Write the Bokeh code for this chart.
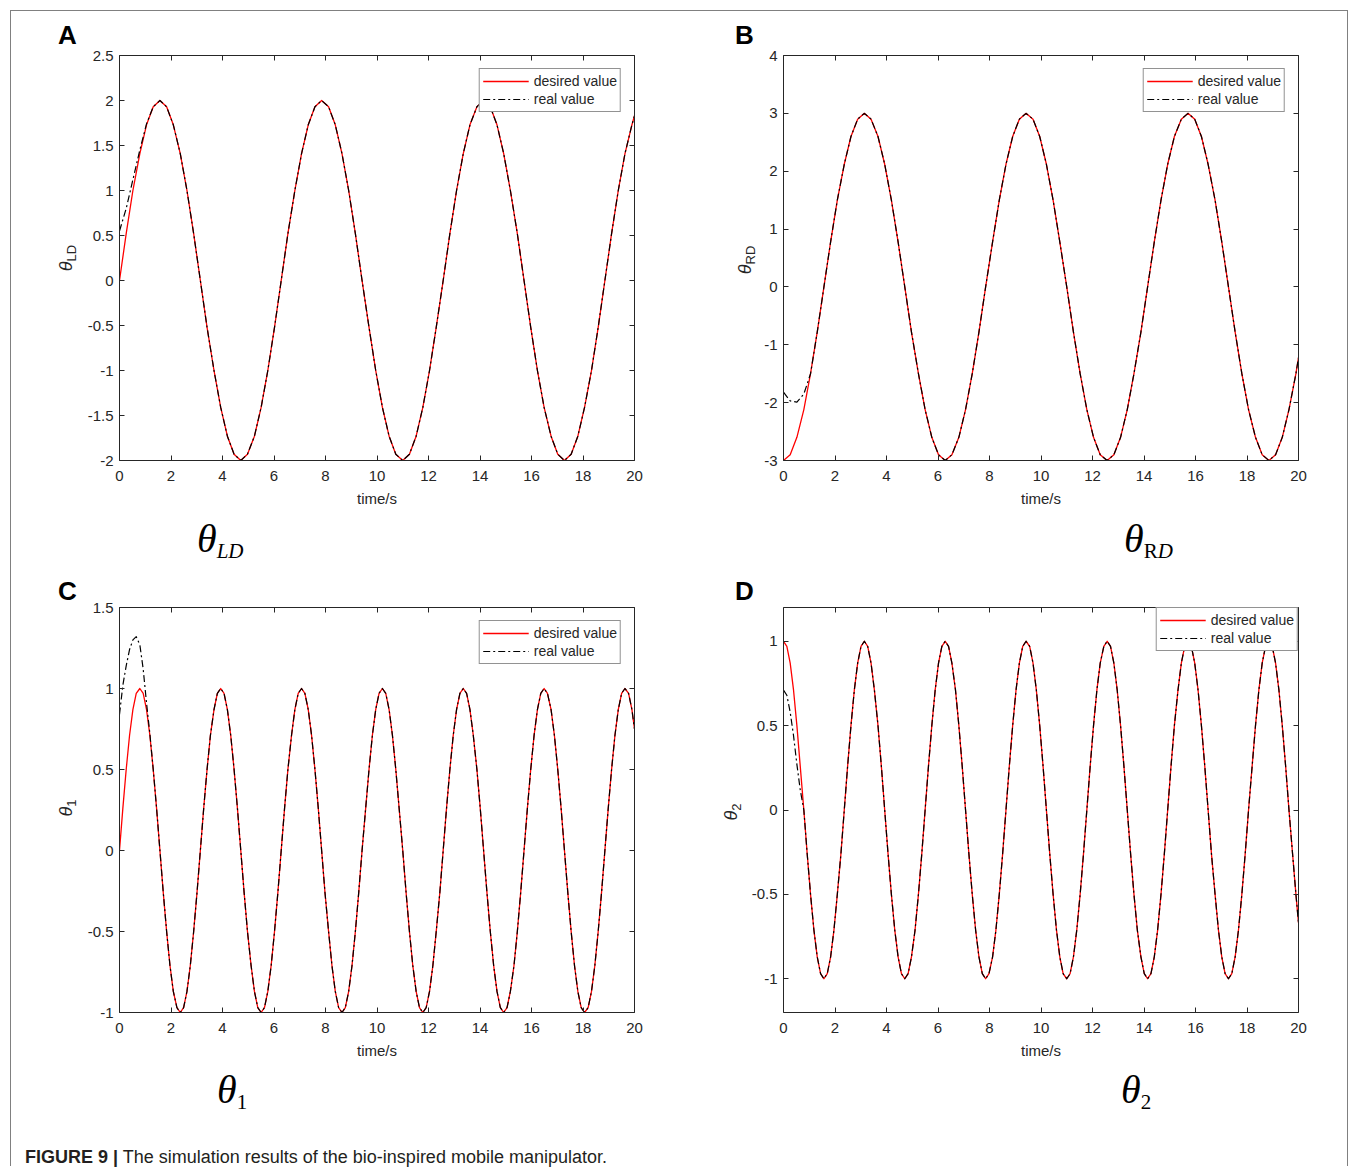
from bokeh.plotting import figure
from bokeh.models import Range1d, LinearAxis, FixedTicker, Legend, LegendItem, Div
from bokeh.layouts import row, column
from bokeh.embed import file_html
from bokeh.resources import INLINE

# ---------------- data ----------------
time_ab = [0.00, 0.26, 0.52, 0.79, 1.05, 1.31, 1.57, 1.83, 2.09, 2.36, 2.62, 2.88, 3.14, 3.40, 3.67, 3.93,
           4.19, 4.45, 4.71, 4.97, 5.24, 5.50, 5.76, 6.02, 6.28, 6.54, 6.81, 7.07, 7.33, 7.59, 7.85, 8.12,
           8.38, 8.64, 8.90, 9.16, 9.42, 9.69, 9.95, 10.21, 10.47, 10.73, 11.00, 11.26, 11.52, 11.78, 12.04,
           12.30, 12.57, 12.83, 13.09, 13.35, 13.61, 13.88, 14.14, 14.40, 14.66, 14.92, 15.18, 15.45, 15.71,
           15.97, 16.23, 16.49, 16.76, 17.02, 17.28, 17.54, 17.80, 18.06, 18.33, 18.59, 18.85, 19.11, 19.37,
           19.63, 19.90, 20.00]

desired_LD = [0.00, 0.52, 1.00, 1.41, 1.73, 1.93, 2.00, 1.93, 1.73, 1.41, 1.00, 0.52, 0.00, -0.52, -1.00, -1.41,
              -1.73, -1.93, -2.00, -1.93, -1.73, -1.41, -1.00, -0.52,
              0.00, 0.52, 1.00, 1.41, 1.73, 1.93, 2.00, 1.93, 1.73, 1.41, 1.00, 0.52, 0.00, -0.52, -1.00, -1.41,
              -1.73, -1.93, -2.00, -1.93, -1.73, -1.41, -1.00, -0.52,
              0.00, 0.52, 1.00, 1.41, 1.73, 1.93, 2.00, 1.93, 1.73, 1.41, 1.00, 0.52, 0.00, -0.52, -1.00, -1.41,
              -1.73, -1.93, -2.00, -1.93, -1.73, -1.41, -1.00, -0.52,
              0.00, 0.52, 1.00, 1.41, 1.73, 1.83]
real_LD_start = [0.55, 0.80, 1.12, 1.45, 1.74]

desired_RD = [-3.00, -2.90, -2.60, -2.12, -1.50, -0.78, 0.00, 0.78, 1.50, 2.12, 2.60, 2.90, 3.00, 2.90, 2.60, 2.12,
              1.50, 0.78, 0.00, -0.78, -1.50, -2.12, -2.60, -2.90,
              -3.00, -2.90, -2.60, -2.12, -1.50, -0.78, 0.00, 0.78, 1.50, 2.12, 2.60, 2.90, 3.00, 2.90, 2.60, 2.12,
              1.50, 0.78, 0.00, -0.78, -1.50, -2.12, -2.60, -2.90,
              -3.00, -2.90, -2.60, -2.12, -1.50, -0.78, 0.00, 0.78, 1.50, 2.12, 2.60, 2.90, 3.00, 2.90, 2.60, 2.12,
              1.50, 0.78, 0.00, -0.78, -1.50, -2.12, -2.60, -2.90,
              -3.00, -2.90, -2.60, -2.12, -1.50, -1.22]
real_RD_start = [-1.82, -1.97, -1.99, -1.85, -1.50]

time_cd = [0.00, 0.13, 0.26, 0.39, 0.52, 0.65, 0.79, 0.92, 1.05, 1.18, 1.31, 1.44, 1.57, 1.70, 1.83, 1.96,
           2.09, 2.23, 2.36, 2.49, 2.62, 2.75, 2.88, 3.01, 3.14, 3.27, 3.40, 3.53, 3.67, 3.80, 3.93, 4.06,
           4.19, 4.32, 4.45, 4.58, 4.71, 4.84, 4.97, 5.11, 5.24, 5.37, 5.50, 5.63, 5.76, 5.89, 6.02, 6.15,
           6.28, 6.41, 6.54, 6.68, 6.81, 6.94, 7.07, 7.20, 7.33, 7.46, 7.59, 7.72, 7.85, 7.98, 8.12, 8.25,
           8.38, 8.51, 8.64, 8.77, 8.90, 9.03, 9.16, 9.29, 9.42, 9.56, 9.69, 9.82, 9.95, 10.08, 10.21, 10.34,
           10.47, 10.60, 10.73, 10.86, 11.00, 11.13, 11.26, 11.39, 11.52, 11.65, 11.78, 11.91, 12.04, 12.17,
           12.30, 12.44, 12.57, 12.70, 12.83, 12.96, 13.09, 13.22, 13.35, 13.48, 13.61, 13.74, 13.88, 14.01,
           14.14, 14.27, 14.40, 14.53, 14.66, 14.79, 14.92, 15.05, 15.18, 15.32, 15.45, 15.58, 15.71, 15.84,
           15.97, 16.10, 16.23, 16.36, 16.49, 16.62, 16.76, 16.89, 17.02, 17.15, 17.28, 17.41, 17.54, 17.67,
           17.80, 17.93, 18.06, 18.20, 18.33, 18.46, 18.59, 18.72, 18.85, 18.98, 19.11, 19.24, 19.37, 19.50,
           19.63, 19.77, 19.90, 20.00]

desired_1 = [0.00, 0.26, 0.50, 0.71, 0.87, 0.97, 1.00, 0.97, 0.87, 0.71, 0.50, 0.26, 0.00, -0.26, -0.50, -0.71,
             -0.87, -0.97, -1.00, -0.97, -0.87, -0.71, -0.50, -0.26,
             0.00, 0.26, 0.50, 0.71, 0.87, 0.97, 1.00, 0.97, 0.87, 0.71, 0.50, 0.26, 0.00, -0.26, -0.50, -0.71,
             -0.87, -0.97, -1.00, -0.97, -0.87, -0.71, -0.50, -0.26,
             0.00, 0.26, 0.50, 0.71, 0.87, 0.97, 1.00, 0.97, 0.87, 0.71, 0.50, 0.26, 0.00, -0.26, -0.50, -0.71,
             -0.87, -0.97, -1.00, -0.97, -0.87, -0.71, -0.50, -0.26,
             0.00, 0.26, 0.50, 0.71, 0.87, 0.97, 1.00, 0.97, 0.87, 0.71, 0.50, 0.26, 0.00, -0.26, -0.50, -0.71,
             -0.87, -0.97, -1.00, -0.97, -0.87, -0.71, -0.50, -0.26,
             0.00, 0.26, 0.50, 0.71, 0.87, 0.97, 1.00, 0.97, 0.87, 0.71, 0.50, 0.26, 0.00, -0.26, -0.50, -0.71,
             -0.87, -0.97, -1.00, -0.97, -0.87, -0.71, -0.50, -0.26,
             0.00, 0.26, 0.50, 0.71, 0.87, 0.97, 1.00, 0.97, 0.87, 0.71, 0.50, 0.26, 0.00, -0.26, -0.50, -0.71,
             -0.87, -0.97, -1.00, -0.97, -0.87, -0.71, -0.50, -0.26,
             0.00, 0.26, 0.50, 0.71, 0.87, 0.97, 1.00, 0.97, 0.87, 0.75]
real_1_start = [0.84, 1.02, 1.14, 1.24, 1.30, 1.32, 1.27, 1.12, 0.91, 0.72]

desired_2 = [1.00, 0.97, 0.87, 0.71, 0.50, 0.26, 0.00, -0.26, -0.50, -0.71, -0.87, -0.97, -1.00, -0.97, -0.87, -0.71,
             -0.50, -0.26, 0.00, 0.26, 0.50, 0.71, 0.87, 0.97,
             1.00, 0.97, 0.87, 0.71, 0.50, 0.26, 0.00, -0.26, -0.50, -0.71, -0.87, -0.97, -1.00, -0.97, -0.87, -0.71,
             -0.50, -0.26, 0.00, 0.26, 0.50, 0.71, 0.87, 0.97,
             1.00, 0.97, 0.87, 0.71, 0.50, 0.26, 0.00, -0.26, -0.50, -0.71, -0.87, -0.97, -1.00, -0.97, -0.87, -0.71,
             -0.50, -0.26, 0.00, 0.26, 0.50, 0.71, 0.87, 0.97,
             1.00, 0.97, 0.87, 0.71, 0.50, 0.26, 0.00, -0.26, -0.50, -0.71, -0.87, -0.97, -1.00, -0.97, -0.87, -0.71,
             -0.50, -0.26, 0.00, 0.26, 0.50, 0.71, 0.87, 0.97,
             1.00, 0.97, 0.87, 0.71, 0.50, 0.26, 0.00, -0.26, -0.50, -0.71, -0.87, -0.97, -1.00, -0.97, -0.87, -0.71,
             -0.50, -0.26, 0.00, 0.26, 0.50, 0.71, 0.87, 0.97,
             1.00, 0.97, 0.87, 0.71, 0.50, 0.26, 0.00, -0.26, -0.50, -0.71, -0.87, -0.97, -1.00, -0.97, -0.87, -0.71,
             -0.50, -0.26, 0.00, 0.26, 0.50, 0.71, 0.87, 0.97,
             1.00, 0.97, 0.87, 0.71, 0.50, 0.26, 0.00, -0.26, -0.50, -0.67]
real_2_start = [0.71, 0.68, 0.58, 0.44, 0.27, 0.12, 0.00]

real_LD = real_LD_start + desired_LD[len(real_LD_start):]
real_RD = real_RD_start + desired_RD[len(real_RD_start):]
real_1 = real_1_start + desired_1[len(real_1_start):]
real_2 = real_2_start + desired_2[len(real_2_start):]

x_ticks = [0, 2, 4, 6, 8, 10, 12, 14, 16, 18, 20]
x_tick_labels = ["0", "2", "4", "6", "8", "10", "12", "14", "16", "18", "20"]
yA_ticks = [-2, -1.5, -1, -0.5, 0, 0.5, 1, 1.5, 2, 2.5]
yA_labels = ["-2", "-1.5", "-1", "-0.5", "0", "0.5", "1", "1.5", "2", "2.5"]
yB_ticks = [-3, -2, -1, 0, 1, 2, 3, 4]
yB_labels = ["-3", "-2", "-1", "0", "1", "2", "3", "4"]
yC_ticks = [-1, -0.5, 0, 0.5, 1, 1.5]
yC_labels = ["-1", "-0.5", "0", "0.5", "1", "1.5"]
yD_ticks = [-1, -0.5, 0, 0.5, 1]
yD_labels = ["-1", "-0.5", "0", "0.5", "1"]
legend_labels = ["desired value", "real value"]
x_label = "time/s"
caption_bold = "FIGURE 9 |"
caption_text = "The simulation results of the bio-inspired mobile manipulator."

# ---------------- styling ----------------
AX = "#262626"
SANS = "Liberation Sans"


def axis_style(ax, ticks, labels, show, standoff=6):
    ax.ticker = FixedTicker(ticks=ticks)
    ax.major_label_overrides = {t: s for t, s in zip(ticks, labels)}
    ax.axis_line_color = AX
    ax.axis_line_width = 1
    ax.major_tick_line_color = AX
    ax.major_tick_in = 5
    ax.major_tick_out = 0
    ax.minor_tick_line_color = None
    ax.major_label_text_font = SANS
    ax.major_label_text_color = AX if show else None
    ax.major_label_text_font_size = "15px" if show else "1px"
    ax.major_label_standoff = standoff if show else 0


def panel(width, height, bl, bt, t, desired, real, yr, yticks, ylabels, leg_margin):
    p = figure(width=width, height=height, output_backend="svg", toolbar_location=None,
               x_range=Range1d(0, 20), y_range=Range1d(*yr), x_axis_type=None, y_axis_type=None,
               min_border_left=bl, min_border_right=width - bl - 515,
               min_border_top=bt, min_border_bottom=height - bt - 405, title=None)
    p.grid.visible = False
    p.outline_line_color = None

    xb = LinearAxis(axis_label=x_label)
    axis_style(xb, x_ticks, x_tick_labels, True, standoff=10)
    xb.axis_label_text_font = SANS
    xb.axis_label_text_font_size = "15px"
    xb.axis_label_text_font_style = "normal"
    xb.axis_label_text_color = AX
    xb.axis_label_standoff = 6
    p.add_layout(xb, "below")
    xt = LinearAxis()
    axis_style(xt, x_ticks, x_tick_labels, False)
    p.add_layout(xt, "above")
    yl = LinearAxis()
    axis_style(yl, yticks, ylabels, True)
    p.add_layout(yl, "left")
    yrt = LinearAxis()
    axis_style(yrt, yticks, ylabels, False)
    p.add_layout(yrt, "right")

    r1 = p.line(t, desired, line_color="#ff0000", line_width=1.3, line_join="round")
    r2 = p.line(t, real, line_color="#000000", line_width=1.2, line_dash="7 3 2 3", line_join="round")

    leg = Legend(items=[LegendItem(label=legend_labels[0], renderers=[r1]),
                        LegendItem(label=legend_labels[1], renderers=[r2])],
                 location="top_right", margin=leg_margin, padding=3, spacing=0,
                 glyph_width=46, glyph_height=18, label_height=18, label_standoff=5,
                 label_text_font=SANS, label_text_font_size="14px", label_text_color=AX,
                 border_line_color=AX, border_line_width=1, background_fill_alpha=1)
    p.add_layout(leg)
    return p


def box(w, h, inner):
    return Div(text='<div style="position:relative;width:%dpx;height:%dpx;overflow:visible">%s</div>'
               % (w, h, inner), width=w, height=h, margin=0)


def letter(x, y, s):
    return ('<div style="position:absolute;left:%dpx;top:%dpx;font-family:\'Liberation Sans\';'
            'font-weight:bold;font-size:26px;line-height:1;color:#000">%s</div>' % (x, y, s))


def ylabel(cx, cy, sub):
    return ('<div style="position:absolute;left:%dpx;top:%dpx;transform:translate(-50%%,-50%%) rotate(-90deg);'
            'white-space:nowrap;font-family:\'Liberation Sans\';font-size:18px;line-height:1;color:#262626">'
            '<i>\u03b8</i><span style="font-size:13px;position:relative;top:4px">%s</span></div>'
            % (cx, cy, sub))


def bigsym(x, y, sub_html):
    return ('<div style="position:absolute;left:%dpx;top:%dpx;white-space:nowrap;'
            'font-family:\'Liberation Serif\';font-size:40px;line-height:1;color:#000">'
            '<i>\u03b8</i><span style="font-size:21px;position:relative;top:6px">%s</span></div>'
            % (x, y, sub_html))


pA = panel(621, 466, 40, 9, time_ab, desired_LD, real_LD, (-2, 2.5), yA_ticks, yA_labels, 13)
pB = panel(590, 466, 26, 9, time_ab, desired_RD, real_RD, (-3, 4), yB_ticks, yB_labels, 13)
pC = panel(621, 466, 40, 8, time_cd, desired_1, real_1, (-1, 1.5), yC_ticks, yC_labels, 13)
pD = panel(602, 466, 38, 8, time_cd, desired_2, real_2, (-1.2, 1.2), yD_ticks, yD_labels, 0)

hdr1 = box(1336, 35, letter(47, 11, "A") + letter(724, 11, "B"))
hdr2 = box(1336, 27, letter(47, 6, "C") + letter(724, 6, "D"))
ylA = box(68, 466, ylabel(55, 212, "LD"))
ylB = box(57, 466, ylabel(45, 214, "RD"))
ylC = box(68, 466, ylabel(55, 209, "1"))
ylD = box(45, 466, ylabel(31, 213, "2"))
bot1 = box(1336, 60, bigsym(186, 7, "<i>LD</i>") + bigsym(1113, 7, "R<i>D</i>"))
bot2 = box(1336, 65, bigsym(206, 5, "1") + bigsym(1110, 5, "2"))

cap = Div(text='<div style="font-family:\'Liberation Sans\',sans-serif;font-size:18px;color:#231f20;'
               'padding:17px 0 0 14px;line-height:20px;white-space:nowrap">'
               '<b>' + caption_bold + '</b> ' + caption_text + '</div>',
          width=1336, height=36, margin=0)

layout = column(hdr1, row(ylA, pA, ylB, pB), bot1, hdr2, row(ylC, pC, ylD, pD), bot2, cap,
                styles={"border-left": "1px solid #808080", "border-top": "1px solid #808080",
                        "border-right": "1px solid #808080", "margin-left": "10px", "margin-top": "10px"})

open("out.html", "w").write(file_html(layout, INLINE))
